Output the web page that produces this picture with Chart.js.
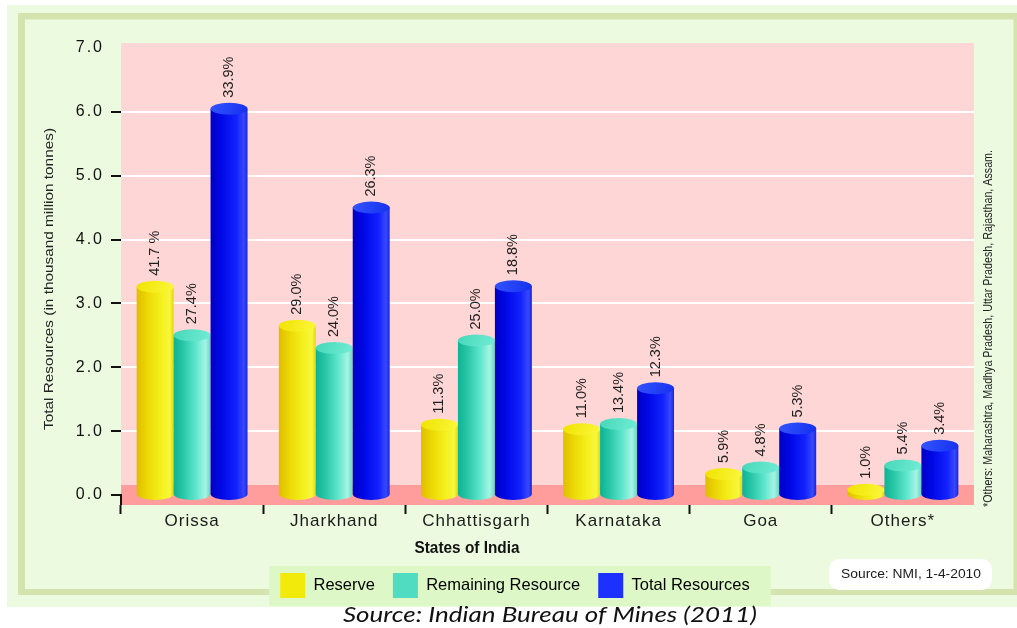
<!DOCTYPE html>
<html>
<head>
<meta charset="utf-8">
<script src="https://cdn.jsdelivr.net/npm/chart.js@4"></script>
<style>
  html, body { margin: 0; padding: 0; background: #ffffff; }
  canvas { display: block; }
</style>
</head>
<body>
<canvas id="chart" width="1017" height="628"></canvas>
<script>
// Iron ore (hematite) resources by state, in thousand million tonnes
const states = ['Orissa', 'Jharkhand', 'Chhattisgarh', 'Karnataka', 'Goa', 'Others*'];
const reserve = [3.26, 2.65, 1.10, 1.03, 0.33, 0.08];
const remaining = [2.50, 2.30, 2.42, 1.11, 0.43, 0.46];
const total = [6.05, 4.50, 3.27, 1.67, 1.04, 0.77];

// Share of the all-India figure printed above each bar
const reservePct = ['41.7 %', '29.0%', '11.3%', '11.0%', '5.9%', '1.0%'];
const remainingPct = ['27.4%', '24.0%', '25.0%', '13.4%', '4.8%', '5.4%'];
const totalPct = ['33.9%', '26.3%', '18.8%', '12.3%', '5.3%', '3.4%'];

const seriesNames = ['Reserve', 'Remaining Resource', 'Total Resources'];
const yTickValues = [0, 1, 2, 3, 4, 5, 6, 7];

const xTitle = 'States of India';
const yTitle = 'Total Resources (in thousand million tonnes)';
const othersNote = '*Others: Maharashtra, Madhya Pradesh, Uttar Pradesh, Rajasthan, Assam.';
const nmiSource = 'Source: NMI, 1-4-2010';
const caption = 'Source: Indian Bureau of Mines (2011)';

// Cylinder shading for each series: body gradient stops and top cap colours
const palettes = [
  { body: [[0, '#e0bd00'], [0.3, '#ecd906'], [0.65, '#f4f01c'], [0.9, '#f8f63e'], [1, '#e6d600']],
    cap: ['#f0e200', '#fbf83c'] },
  { body: [[0, '#0db394'], [0.25, '#28c6a6'], [0.6, '#5ee6cc'], [0.86, '#a6f4e5'], [1, '#66d6c2']],
    cap: ['#46d8b8', '#72ecd6'] },
  { body: [[0, '#0000c4'], [0.3, '#0008e6'], [0.7, '#1222ff'], [0.9, '#3848ff'], [1, '#1626e0']],
    cap: ['#3454ff', '#1430ee'] }
];
const pctLabels = [reservePct, remainingPct, totalPct];

function fitText(ctx, text, cx, cy, font, width, rot, color) {
  ctx.save();
  ctx.font = font;
  const w = ctx.measureText(text).width;
  ctx.translate(cx, cy);
  if (rot) ctx.rotate(rot);
  ctx.scale(width / w, 1);
  ctx.fillStyle = color || '#1a1a1a';
  ctx.textAlign = 'center';
  ctx.textBaseline = 'middle';
  ctx.fillText(text, 0, 0);
  ctx.restore();
}

function roundRect(ctx, x, y, w, h, r) {
  ctx.beginPath();
  ctx.moveTo(x + r, y);
  ctx.arcTo(x + w, y, x + w, y + h, r);
  ctx.arcTo(x + w, y + h, x, y + h, r);
  ctx.arcTo(x, y + h, x, y, r);
  ctx.arcTo(x, y, x + w, y, r);
  ctx.closePath();
}

// Letter-spaced tick labels
function spacedLabels(scale, px) {
  if (scale.__spaced) return;
  const orig = scale.drawLabels;
  scale.drawLabels = function (area) {
    const c = this.ctx;
    const prev = c.letterSpacing;
    c.letterSpacing = px;
    orig.call(this, area);
    c.letterSpacing = prev;
  };
  scale.__spaced = true;
}

const backdrop = {
  id: 'backdrop',
  beforeDraw(chart) {
    const ctx = chart.ctx;
    const a = chart.chartArea;
    ctx.save();
    ctx.fillStyle = '#ffffff';
    ctx.fillRect(0, 0, chart.width, chart.height);
    // outer panel
    ctx.fillStyle = '#ecfbe0';
    ctx.fillRect(7, 5, chart.width - 7, 602);
    // frame
    ctx.fillStyle = '#d5e3ae';
    ctx.fillRect(18, 13, chart.width - 18, 582);
    ctx.fillStyle = '#ecfbe0';
    ctx.fillRect(25, 19.5, 1013.5 - 25, 589 - 19.5);
    // plot area and floor
    ctx.fillStyle = '#ffd6d6';
    ctx.fillRect(a.left, a.top, a.right - a.left, a.bottom - a.top);
    ctx.fillStyle = '#ff9c9c';
    ctx.fillRect(a.left, a.bottom - 20, a.right - a.left, 20);

    // NMI source box
    ctx.fillStyle = '#ffffff';
    roundRect(ctx, 829, 559, 163, 31, 10);
    ctx.fill();
    fitText(ctx, nmiSource, 911, 574.5, '13px "Liberation Sans"', 140, 0, '#1a1a1a');

    // legend panel
    const lg = chart.legend;
    if (lg && lg.legendHitBoxes && lg.legendHitBoxes.length) {
      const hb = lg.legendHitBoxes;
      const first = hb[0], last = hb[hb.length - 1];
      const left = first.left - 11;
      const right = last.left + last.width + 21;
      ctx.fillStyle = '#ddf8c6';
      ctx.fillRect(left, first.top - 7, right - left, 40);
    }
    ctx.restore();
  },
  afterDraw(chart) {
    const ctx = chart.ctx;
    const a = chart.chartArea;
    // corner where the zero tick meets the first category divider
    ctx.save();
    ctx.fillStyle = '#111111';
    ctx.fillRect(a.left - 1, chart.scales.y.getPixelForValue(0) - 1, 2, a.bottom - chart.scales.y.getPixelForValue(0) + 1);
    ctx.restore();
    fitText(ctx, xTitle, 467, 548, 'bold 17px "Liberation Sans"', 105, 0, '#111111');
    fitText(ctx, yTitle, 49, 279, '13px "Liberation Sans"', 302, -Math.PI / 2, '#222222');
    fitText(ctx, othersNote, 989, 328.5, '12px "Liberation Sans"', 357, -Math.PI / 2, '#222222');
    fitText(ctx, caption, 550, 615, 'italic 21px Lato', 414, 0, '#111111');
  }
};

const cylinders = {
  id: 'cylinders',
  beforeDatasetDraw() { return false; },
  afterDatasetsDraw(chart) {
    const ctx = chart.ctx;
    ctx.save();
    chart.data.datasets.forEach((ds, i) => {
      const meta = chart.getDatasetMeta(i);
      const pal = palettes[i];
      meta.data.forEach((el) => {
        const x = el.x, top = el.y, base = el.base, w = el.width;
        const l = x - w / 2, r = x + w / 2, rx = w / 2, ry = 6;
        const g = ctx.createLinearGradient(l, 0, r, 0);
        pal.body.forEach(([s, c]) => g.addColorStop(s, c));
        ctx.beginPath();
        ctx.moveTo(l, top);
        ctx.lineTo(l, base);
        ctx.ellipse(x, base, rx, ry, 0, Math.PI, 0, true);
        ctx.lineTo(r, top);
        ctx.closePath();
        ctx.fillStyle = g;
        ctx.fill();
        const gc = ctx.createLinearGradient(l, top - ry, r, top + ry);
        gc.addColorStop(0, pal.cap[0]);
        gc.addColorStop(1, pal.cap[1]);
        ctx.beginPath();
        ctx.ellipse(x, top, rx, ry, 0, 0, Math.PI * 2);
        ctx.fillStyle = gc;
        ctx.fill();
      });
    });
    // percentage labels above each cylinder
    ctx.font = '14.5px "Liberation Sans"';
    ctx.fillStyle = '#1e1e1e';
    ctx.textAlign = 'left';
    ctx.textBaseline = 'middle';
    chart.data.datasets.forEach((ds, i) => {
      const meta = chart.getDatasetMeta(i);
      meta.data.forEach((el, j) => {
        ctx.save();
        ctx.translate(el.x, el.y - 11);
        ctx.rotate(-Math.PI / 2);
        ctx.fillText(pctLabels[i][j], 0, 0);
        ctx.restore();
      });
    });
    ctx.restore();
  }
};

new Chart(document.getElementById('chart'), {
  type: 'bar',
  data: {
    labels: states,
    datasets: [
      { label: seriesNames[0], data: reserve, backgroundColor: '#f2ea0a' },
      { label: seriesNames[1], data: remaining, backgroundColor: '#50dcc0' },
      { label: seriesNames[2], data: total, backgroundColor: '#1c30ff' }
    ]
  },
  options: {
    responsive: false,
    animation: false,
    devicePixelRatio: 1,
    layout: { padding: { left: 56, right: 43, top: 43, bottom: 20 } },
    datasets: { bar: { categoryPercentage: 0.78, barPercentage: 1.0, borderWidth: 0 } },
    plugins: {
      legend: {
        position: 'bottom',
        labels: {
          font: { family: 'Liberation Sans', size: 16.5 },
          color: '#111111',
          boxWidth: 25,
          boxHeight: 25,
          padding: 18,
          generateLabels(chart) {
            return chart.data.datasets.map((ds, i) => ({
              text: ds.label,
              fillStyle: ds.backgroundColor,
              strokeStyle: 'rgba(0,0,0,0)',
              lineWidth: 0,
              hidden: false,
              datasetIndex: i
            }));
          }
        }
      },
      tooltip: { enabled: false }
    },
    scales: {
      x: {
        border: { display: false },
        grid: {
          offset: true,
          drawOnChartArea: false,
          tickLength: 9,
          tickWidth: 2,
          tickColor: (c) => (c.type === 'tick' && c.index < states.length ? '#111111' : 'rgba(0,0,0,0)')
        },
        ticks: {
          font: { family: 'Liberation Sans', size: 17 },
          color: '#1a1a1a',
          padding: -3,
          maxRotation: 0
        },
        afterFit(scale) {
          scale.height = 50;
          spacedLabels(scale, '1px');
        }
      },
      y: {
        min: -0.157,
        max: 7.078,
        border: { display: false },
        afterBuildTicks(scale) {
          scale.ticks = yTickValues.map((v) => ({ value: v }));
        },
        grid: {
          lineWidth: 2,
          tickLength: 10,
          tickWidth: 2,
          color: (c) => (c.tick && c.tick.value > 0 && c.tick.value < 7 ? '#ffffff' : 'rgba(0,0,0,0)'),
          tickColor: (c) => (c.tick && c.tick.value < 7 ? '#111111' : 'rgba(0,0,0,0)')
        },
        ticks: {
          font: { family: 'Liberation Sans', size: 16 },
          color: '#111111',
          padding: 7,
          callback: (v) => Number(v).toFixed(1)
        },
        afterFit(scale) {
          scale.width = 121 - 56;
          spacedLabels(scale, '2px');
        }
      }
    }
  },
  plugins: [backdrop, cylinders]
});
</script>
</body>
</html>
